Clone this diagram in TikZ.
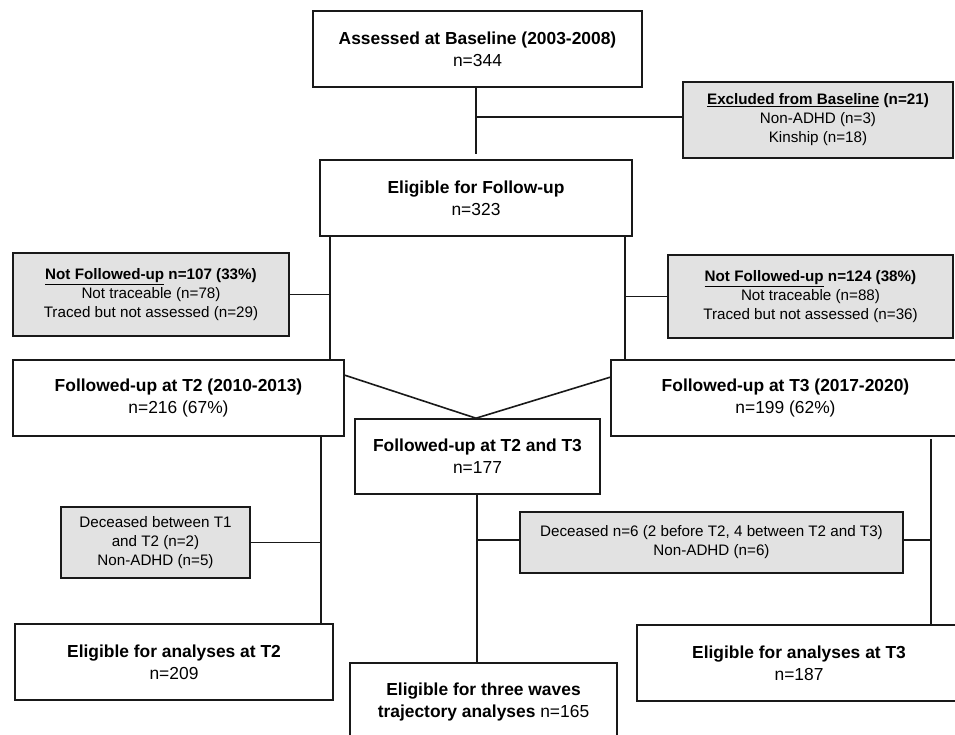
\documentclass[tikz,border=0pt]{standalone}
\usepackage{fontspec}
\setmainfont{Liberation Sans}
\usetikzlibrary{calc}
\definecolor{boxgray}{RGB}{226,226,226}
\definecolor{ink}{RGB}{25,25,25}
\tikzset{
  mainbox/.style={draw=ink, line width=1.6pt, fill=white, align=center, inner sep=0pt,
    font=\fontsize{17.4}{22}\selectfont},
  graybox/.style={draw=ink, line width=1.6pt, fill=boxgray, align=center, inner sep=0pt,
    font=\fontsize{15.2}{19}\selectfont},
  conn/.style={draw=ink, line width=1.6pt}
}
\begin{document}
\begin{tikzpicture}[x=1pt,y=-1pt]
\clip (0,0) rectangle (955,735);
\fill[white] (0,0) rectangle (955,735);

\node[mainbox, minimum width=329pt, minimum height=76pt] (base) at (477.5,49)
  {\textbf{Assessed at Baseline (2003-2008)}\\n=344};
\node[graybox, minimum width=270pt, minimum height=76pt] (excl) at (818,120)
  {\textbf{\underline{Excluded from Baseline} (n=21)}\\Non-ADHD (n=3)\\Kinship (n=18)};
\node[mainbox, minimum width=312pt, minimum height=76pt] (elig) at (476,198)
  {\textbf{Eligible for Follow-up}\\n=323};
\node[graybox, minimum width=276pt, minimum height=83pt] (nfl) at (151,294.5)
  {\textbf{\underline{Not Followed-up} n=107 (33\%)}\\Not traceable (n=78)\\Traced but not assessed (n=29)};
\node[graybox, minimum width=285pt, minimum height=83pt] (nfr) at (810.5,296.5)
  {\textbf{\underline{Not Followed-up} n=124 (38\%)}\\Not traceable (n=88)\\Traced but not assessed (n=36)};
\node[mainbox, minimum width=331pt, minimum height=76pt] (t2) at (178.5,398)
  {\textbf{Followed-up at T2 (2010-2013)}\\n=216 (67\%)};
\node[mainbox, minimum width=349pt, minimum height=76pt] (t3) at (785.5,398)
  {\textbf{Followed-up at T3 (2017-2020)}\\n=199 (62\%)};
\node[mainbox, minimum width=245pt, minimum height=75pt] (t23) at (477.5,456.5)
  {\textbf{Followed-up at T2 and T3}\\n=177};
\node[graybox, minimum width=189pt, minimum height=71pt] (decl) at (155.5,542.5)
  {Deceased between T1\\and T2 (n=2)\\Non-ADHD (n=5)};
\node[graybox, minimum width=383pt, minimum height=61pt] (decr) at (711.5,542.5)
  {Deceased n=6 (2 before T2, 4 between T2 and T3)\\Non-ADHD (n=6)};
\node[mainbox, minimum width=318pt, minimum height=76pt] (et2) at (174,662)
  {\textbf{Eligible for analyses at T2}\\n=209};
\node[mainbox, minimum width=267pt, minimum height=78pt] (e3w) at (483.5,702)
  {\textbf{Eligible for three waves}\\\textbf{trajectory analyses} n=165};
\node[mainbox, minimum width=324pt, minimum height=76pt] (et3) at (799,663)
  {\textbf{Eligible for analyses at T3}\\n=187};

% baseline -> eligible
\coordinate (bs) at ($(base.south)+(-1.5,0)$);
\draw[conn] (bs) -- ($(bs |- elig.north)+(0,-5)$);
\draw[conn] (excl.west |- 0,117) -- (bs |- 0,117);

% eligible -> T2 / T3
\coordinate (el) at ($(elig.south west)+(11,0)$);
\coordinate (er) at ($(elig.south east)+(-8,0)$);
\draw[conn] (el) -- (el |- t2.north);
\draw[conn] (er) -- (er |- t3.north);
\draw[conn] (nfl.east) -- (nfl.east -| el);
\draw[conn] (nfr.west) -- (nfr.west -| er);

% T2, T3 -> T2 and T3
\draw[conn] ($(t2.north east)+(0,16)$) -- ($(t23.north)+(-1.5,0)$);
\draw[conn] ($(t3.north west)+(0,18)$) -- ($(t23.north)+(-1.5,0)$);

% T2 -> eligible T2
\coordinate (t2s) at ($(t2.south east)+(-24,0)$);
\draw[conn] (t2s) -- (t2s |- et2.north);
\draw[conn] (decl.east) -- (decl.east -| t2s);

% T2 and T3 -> three waves
\coordinate (ms) at ($(t23.south)+(-0.5,0)$);
\draw[conn] (ms) -- (ms |- e3w.north);
\draw[conn] (decr.west |- 0,540) -- (ms |- 0,540);

% T3 -> eligible T3
\coordinate (t3s) at ($(t3.south west)+(321,2)$);
\draw[conn] (t3s) -- (t3s |- et3.north);
\draw[conn] (decr.east |- 0,540) -- (t3s |- 0,540);
\end{tikzpicture}
\end{document}
